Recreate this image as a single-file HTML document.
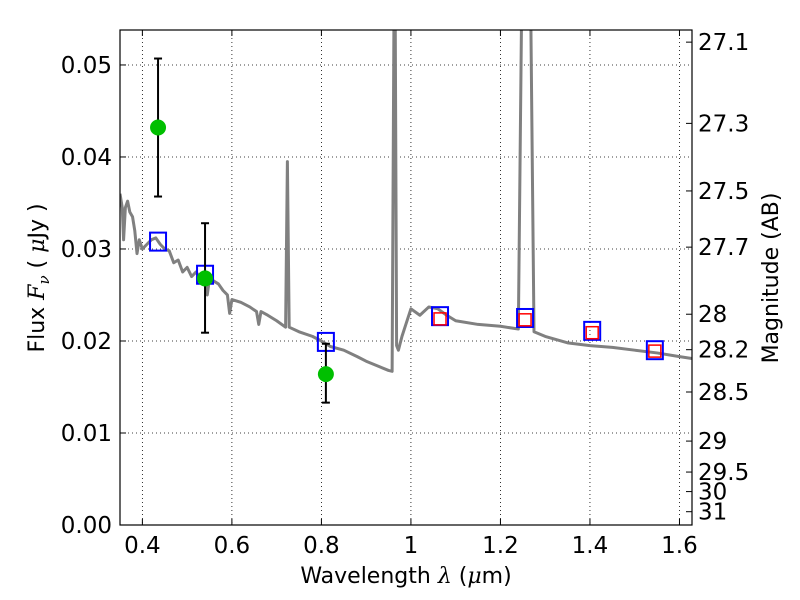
<!DOCTYPE html>
<html><head><meta charset="utf-8"><style>
html,body{margin:0;padding:0;background:#fff;}
svg{display:block;font-family:"DejaVu Sans","Liberation Sans",sans-serif;}
</style></head><body>
<svg id="chart" width="800" height="600" viewBox="0 0 800 600"></svg>
<script>
const specWl=[0.35,0.355,0.358,0.362,0.367,0.372,0.378,0.383,0.388,0.393,0.40,0.41,0.42,0.43,0.44,0.45,0.46,0.47,0.48,0.49,0.50,0.51,0.52,0.53,0.54,0.545,0.55,0.56,0.57,0.58,0.59,0.595,0.60,0.62,0.64,0.655,0.66,0.665,0.68,0.70,0.72,0.724,0.728,0.75,0.78,0.80,0.82,0.85,0.88,0.90,0.93,0.95,0.958,0.962,0.965,0.968,0.972,0.98,0.99,1.0,1.02,1.04,1.06,1.08,1.10,1.15,1.2,1.24,1.247,1.268,1.275,1.30,1.35,1.40,1.45,1.50,1.55,1.60,1.628];
const specFlux=[0.0360,0.0345,0.0310,0.0345,0.0352,0.0340,0.0335,0.0320,0.0295,0.0310,0.0300,0.0305,0.0310,0.0312,0.0305,0.0300,0.0298,0.0285,0.0288,0.0275,0.0280,0.0270,0.0275,0.0268,0.0270,0.0250,0.0268,0.0265,0.0262,0.0255,0.0250,0.0230,0.0245,0.0242,0.0237,0.0232,0.0218,0.0232,0.0228,0.0222,0.0215,0.0395,0.0215,0.0210,0.0205,0.0200,0.0194,0.0190,0.0183,0.0178,0.0172,0.0168,0.0167,0.0545,0.0545,0.0195,0.0190,0.0205,0.0220,0.0235,0.0228,0.0237,0.0235,0.0228,0.0222,0.0218,0.0216,0.0213,0.0545,0.0545,0.0210,0.0205,0.0198,0.0195,0.0193,0.0190,0.0187,0.0183,0.0181];
const obsWl=[0.435,0.54,0.81];
const obsFlux=[0.0432,0.0268,0.0164];
const obsLo=[0.0357,0.0209,0.0133];
const obsHi=[0.0507,0.0328,0.0197];
const modelWl=[0.435,0.54,0.81,1.065,1.255,1.405,1.545];
const modelFlux=[0.0308,0.0272,0.0199,0.0227,0.0225,0.0211,0.0190];
const irWl=[1.065,1.255,1.405,1.545];
const irFlux=[0.0224,0.0223,0.0209,0.0189];
const xTicks=[0.4,0.6,0.8,1.0,1.2,1.4,1.6];
const xTickLabels=["0.4","0.6","0.8","1","1.2","1.4","1.6"];
const yTicks=[0,0.01,0.02,0.03,0.04,0.05];
const yTickLabels=["0.00","0.01","0.02","0.03","0.04","0.05"];
const magTicks=[27.1,27.3,27.5,27.7,28,28.2,28.5,29,29.5,30,31];
const magLabels=["27.1","27.3","27.5","27.7","28","28.2","28.5","29","29.5","30","31"];

const L=120,R=692,T=30,B=525;
const x0=0.35,x1=1.628,y0=0,y1=0.0538;
const X=v=>L+(v-x0)/(x1-x0)*(R-L);
const Y=v=>B-(v-y0)/(y1-y0)*(B-T);
const svg=document.getElementById('chart');
const NS='http://www.w3.org/2000/svg';
function mk(tag,attrs,parent){const e=document.createElementNS(NS,tag);for(const k in attrs)e.setAttribute(k,attrs[k]);(parent||svg).appendChild(e);return e;}

const clip=mk('clipPath',{id:'pc'});mk('rect',{x:L,y:T,width:R-L,height:B-T},clip);
xTicks.forEach((t,i)=>{
  const g=mk('line',{x1:X(t),x2:X(t),y1:T,y2:B,stroke:'#000','stroke-width':0.8,'stroke-dasharray':'1,3'});
  
  
  const tk=mk('line',{x1:X(t),x2:X(t),y1:B,y2:B-6,stroke:'#000'});
  
  
  mk('line',{x1:X(t),x2:X(t),y1:T,y2:T+6,stroke:'#000'});
  const lb=mk('text',{x:X(t),y:B+28,'text-anchor':'middle','font-size':23});
  lb.textContent=xTickLabels[i];
  
  
});
yTicks.forEach((t,i)=>{
  const g=mk('line',{x1:L,x2:R,y1:Y(t),y2:Y(t),stroke:'#000','stroke-width':0.8,'stroke-dasharray':'1,3'});
  
  
  mk('line',{x1:L,x2:L+6,y1:Y(t),y2:Y(t),stroke:'#000'});
  const lb=mk('text',{x:L-8,y:Y(t)+8,'text-anchor':'end','font-size':23});
  lb.textContent=yTickLabels[i];
  
  
});
magTicks.forEach((m,i)=>{
  const f=Math.pow(10,(23.9-m)/2.5);
  const tk=mk('line',{x1:R,x2:R-6,y1:Y(f),y2:Y(f),stroke:'#000'});
  
  
  const lb=mk('text',{x:R+6,y:Y(f)+8,'font-size':23});
  lb.textContent=magLabels[i];
  
  
});
const sp=mk('polyline',{points:specWl.map((w,i)=>X(w)+','+Y(specFlux[i])).join(' '),fill:'none',stroke:'#808080','stroke-width':3,'stroke-linejoin':'round','clip-path':'url(#pc)'});


modelWl.forEach((w,i)=>{
  const r=mk('rect',{x:X(w)-8,y:Y(modelFlux[i])-9,width:16,height:18,fill:'none',stroke:'#0000ff','stroke-width':2});
  
  
});
irWl.forEach((w,i)=>{
  const r=mk('rect',{x:X(w)-6,y:Y(irFlux[i])-6,width:12,height:12,fill:'none',stroke:'#ff0000','stroke-width':1.5});
  
  
});
obsWl.forEach((w,i)=>{
  const e=mk('line',{x1:X(w),x2:X(w),y1:Y(obsLo[i]),y2:Y(obsHi[i]),stroke:'#000','stroke-width':2});
  
  
  mk('line',{x1:X(w)-4,x2:X(w)+4,y1:Y(obsLo[i]),y2:Y(obsLo[i]),stroke:'#000','stroke-width':2});
  mk('line',{x1:X(w)-4,x2:X(w)+4,y1:Y(obsHi[i]),y2:Y(obsHi[i]),stroke:'#000','stroke-width':2});
  const c=mk('circle',{cx:X(w),cy:Y(obsFlux[i]),r:8,fill:'#00bf00'});
  
  
});
const fr=mk('rect',{x:L,y:T,width:R-L,height:B-T,fill:'none',stroke:'#000','stroke-width':1.2});


const xl=mk('text',{x:406,y:583,'text-anchor':'middle','font-size':22});
xl.innerHTML='Wavelength  <tspan font-style="italic" font-family="DejaVu Serif">λ</tspan> (<tspan font-style="italic" font-family="DejaVu Serif">μ</tspan>m)';


const yl=mk('text',{transform:'translate(44,278) rotate(-90)','text-anchor':'middle','font-size':22});
yl.innerHTML='Flux  <tspan font-style="italic" font-family="DejaVu Serif">F</tspan><tspan font-style="italic" font-family="DejaVu Serif" font-size="15" dy="5">ν</tspan><tspan dy="-5">  ( </tspan><tspan font-style="italic" font-family="DejaVu Serif">μ</tspan>Jy )';


const ml=mk('text',{transform:'translate(778,278) rotate(-90)','text-anchor':'middle','font-size':22});
ml.textContent='Magnitude (AB)';


</script>
</body></html>
